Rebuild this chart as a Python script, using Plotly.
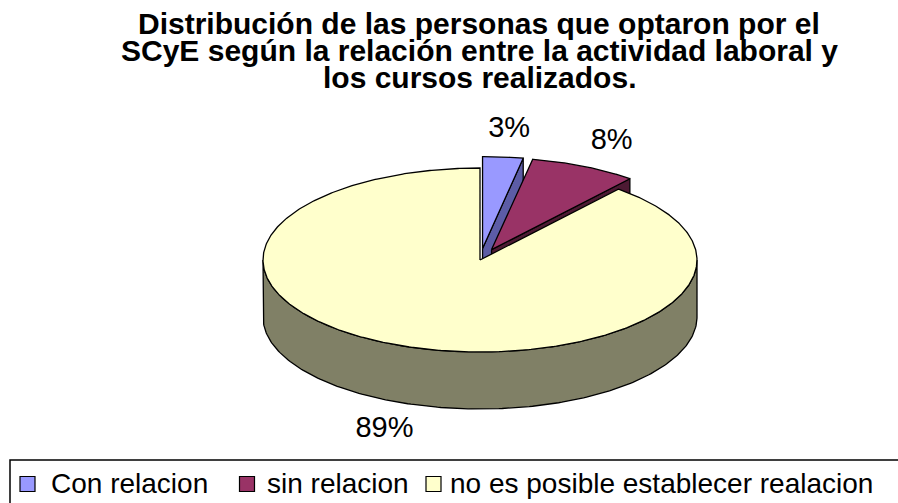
import numpy as np
import plotly.graph_objects as go

# ---- data ----
categories = ["Con relacion", "sin relacion", "no es posible establecer realacion"]
values = [3, 8, 89]
value_labels = ["3%", "8%", "89%"]
exploded = [True, True, False]
title_lines = [
    "Distribución de las personas que optaron por el",
    "SCyE según la relación entre la actividad laboral y",
    "los cursos realizados.",
]

# ---- style ----
top_colors = ["#9999FF", "#993366", "#FFFFCC"]
side_colors = ["#5C5CA6", "#4D1A33", "#808066"]
FONT = "Liberation Sans, Arial, sans-serif"

W, H = 898, 503
CX, CY, RX, RY, DEPTH = 480, 260, 217, 92, 57
EXPLODE = 0.125
LABEL_K = 1.3
N = 200

total = float(sum(values))
fracs = np.array(values) / total
ends = np.cumsum(fracs) * 2 * np.pi
starts = np.concatenate([[0.0], ends[:-1]])
mids = (starts + ends) / 2


def pt(theta, ox=0.0, oy=0.0, dz=0.0, k=1.0):
    return (CX + ox + k * RX * np.sin(theta), CY + oy - k * RY * np.cos(theta) + dz)


offsets = []
for i in range(len(values)):
    if exploded[i]:
        offsets.append((EXPLODE * RX * np.sin(mids[i]), -EXPLODE * RY * np.cos(mids[i])))
    else:
        offsets.append((0.0, 0.0))

fig = go.Figure()
LINE = dict(color="black", width=1.3)


def add_poly(xs, ys, color):
    fig.add_trace(go.Scatter(x=list(xs), y=list(ys), mode="lines", fill="toself",
                             fillcolor=color, line=LINE, hoverinfo="skip",
                             showlegend=False))


# exploded slices first (behind), each: end cut face then top face
for i in range(len(values)):
    if not exploded[i]:
        continue
    ox, oy = offsets[i]
    a, b = starts[i], ends[i]
    c0 = pt(0, ox, oy, k=0)
    e0 = pt(b, ox, oy)
    xs = [c0[0], e0[0], e0[0], c0[0], c0[0]]
    ys = [c0[1], e0[1], e0[1] + DEPTH, c0[1] + DEPTH, c0[1]]
    add_poly(xs, ys, side_colors[i])
    th = np.linspace(a, b, N)
    px, py = pt(th, ox, oy)
    xs = np.concatenate([[c0[0]], px, [c0[0]]])
    ys = np.concatenate([[c0[1]], py, [c0[1]]])
    add_poly(xs, ys, top_colors[i])

# non exploded slice: front side wall then top face
for i in range(len(values)):
    if exploded[i]:
        continue
    ox, oy = offsets[i]
    a, b = starts[i], ends[i]
    lo = max(a, np.pi / 2)
    hi = min(b, 3 * np.pi / 2)
    if hi > lo:
        th = np.linspace(lo, hi, N)
        px, py = pt(th, ox, oy)
        bx, by = pt(th[::-1], ox, oy, dz=DEPTH)
        xs = np.concatenate([px, bx, [px[0]]])
        ys = np.concatenate([py, by, [py[0]]])
        add_poly(xs, ys, side_colors[i])
    c0 = pt(0, ox, oy, k=0)
    th = np.linspace(a, b, 3 * N)
    px, py = pt(th, ox, oy)
    xs = np.concatenate([[c0[0]], px, [c0[0]]])
    ys = np.concatenate([[c0[1]], py, [c0[1]]])
    add_poly(xs, ys, top_colors[i])

# data labels
lx, ly = [], []
for i in range(len(values)):
    ox, oy = offsets[i]
    x, y = pt(mids[i], ox, oy, k=LABEL_K)
    if np.cos(mids[i]) < 0:
        y += DEPTH
    lx.append(x)
    ly.append(y)
fig.add_trace(go.Scatter(x=lx, y=ly, mode="text", text=value_labels,
                         textposition="middle center",
                         textfont=dict(family=FONT, size=29, color="black"),
                         hoverinfo="skip", showlegend=False))

# legend (manual, Excel style)
LEG_SWATCH_X = [27.5, 247, 433.5]
LEG_TEXT_X = [49, 265, 448]
LEG_Y = 484
fig.add_trace(go.Scatter(x=LEG_SWATCH_X, y=[LEG_Y] * 3, mode="markers",
                         marker=dict(symbol="square", size=15, color=top_colors,
                                     line=dict(color="black", width=1.2)),
                         hoverinfo="skip", showlegend=False))
annotations = []
for i, name in enumerate(categories):
    annotations.append(dict(x=LEG_TEXT_X[i], y=LEG_Y - 1, xref="x", yref="y", text=name,
                            showarrow=False, xanchor="left", yanchor="middle",
                            font=dict(family=FONT, size=28, color="black")))

TITLE_Y = [23, 50, 77]
for i, line in enumerate(title_lines):
    annotations.append(dict(x=479, y=TITLE_Y[i], xref="x", yref="y",
                            text="<b>" + line + "</b>", showarrow=False,
                            xanchor="center", yanchor="middle",
                            font=dict(family=FONT, size=30, color="black")))

fig.update_layout(
    width=W, height=H,
    margin=dict(l=0, r=0, t=0, b=0),
    paper_bgcolor="white", plot_bgcolor="white",
    xaxis=dict(range=[0, W], visible=False, fixedrange=True),
    yaxis=dict(range=[H, 0], visible=False, fixedrange=True),
    annotations=annotations,
    shapes=[dict(type="rect", xref="x", yref="y", x0=10, y0=460, x1=W + 20, y1=H + 20,
                 line=dict(color="black", width=1.5), fillcolor="rgba(0,0,0,0)")],
    showlegend=False,
)

fig.write_html("out.html", config={"displayModeBar": False},
               post_script="document.body.style.margin='0';document.body.style.overflow='hidden';")
